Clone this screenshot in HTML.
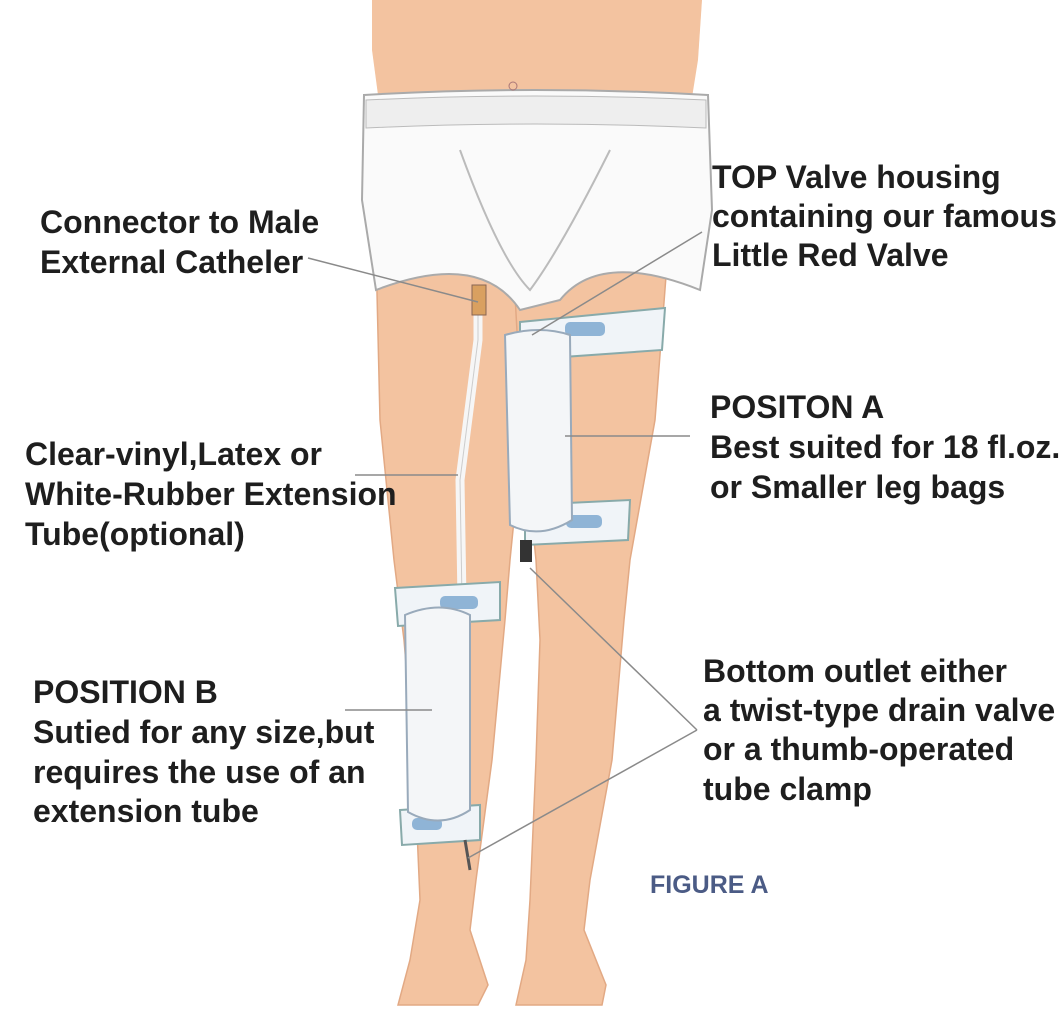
<!DOCTYPE html>
<html><head><meta charset="utf-8"><style>
html,body{margin:0;padding:0;background:#fff;}
svg{display:block}
text{font-family:"Liberation Sans",sans-serif;font-weight:bold;fill:#1e1e1e;font-size:32px}
</style></head><body>
<svg width="1063" height="1020" viewBox="0 0 1063 1020">
<rect width="1063" height="1020" fill="#fff"/>
<path d="M372 0 L702 0 L698 60 L690 110 L380 110 L372 50 Z" fill="#f3c3a0"/>
<path d="M376 250 L532 260 L524 420 L510 560 L505 620 L492 760 L476 880 L470 930 L488 985 L478 1005 L398 1005 L410 960 L420 900 L414 760 L404 640 L394 560 L380 420 Z" fill="#f3c3a0" stroke="#e2a984" stroke-width="1.5"/>
<path d="M513 260 L668 250 L655 420 L630 560 L624 620 L612 760 L590 880 L584 930 L606 985 L602 1005 L516 1005 L526 960 L530 900 L536 760 L540 640 L536 560 L522 420 Z" fill="#f3c3a0" stroke="#e2a984" stroke-width="1.5"/>
<path d="M364 95 Q535 85 708 95 L712 210 L700 290 Q600 250 560 300 L520 310 Q480 250 376 290 L362 200 Z" fill="#fafafa" stroke="#aaa" stroke-width="2"/>
<path d="M366 100 Q535 92 706 100 L706 128 Q535 120 366 128 Z" fill="#eee" stroke="#bbb"/>
<path d="M460 150 Q500 260 530 290 Q560 250 610 150" fill="none" stroke="#bbb" stroke-width="2"/>
<circle cx="513" cy="86" r="4" fill="none" stroke="#a77"/>
<path d="M478 300 L478 340 L460 480 L462 600" fill="none" stroke="#f6f6f6" stroke-width="9"/>
<path d="M478 300 L478 340 L460 480 L462 600" fill="none" stroke="#ccc" stroke-width="1"/>
<rect x="472" y="285" width="14" height="30" fill="#d9a060" stroke="#865"/>
<path d="M520 322 L665 308 L662 350 L520 360 Z" fill="#f0f4f8" stroke="#8aa" stroke-width="2"/>
<rect x="565" y="322" width="40" height="14" rx="5" fill="#8fb4d6"/>
<path d="M525 505 L630 500 L628 540 L525 545 Z" fill="#f0f4f8" stroke="#8aa" stroke-width="2"/>
<rect x="566" y="515" width="36" height="13" rx="5" fill="#8fb4d6"/>
<path d="M505 335 Q540 325 570 335 L572 520 Q540 540 510 525 Z" fill="#f4f6f8" stroke="#9ab" stroke-width="2"/>
<rect x="520" y="540" width="12" height="22" fill="#333"/>
<path d="M395 588 L500 582 L500 620 L398 626 Z" fill="#f0f4f8" stroke="#8aa" stroke-width="2"/>
<rect x="440" y="596" width="38" height="13" rx="5" fill="#8fb4d6"/>
<path d="M400 810 L480 805 L480 840 L402 845 Z" fill="#f0f4f8" stroke="#8aa" stroke-width="2"/>
<rect x="412" y="818" width="30" height="12" rx="5" fill="#8fb4d6"/>
<path d="M405 615 Q440 600 470 615 L470 810 Q440 830 408 812 Z" fill="#f4f6f8" stroke="#9ab" stroke-width="2"/>
<path d="M465 840 L470 870" stroke="#555" stroke-width="3"/>
<g stroke="#8a8a8a" stroke-width="1.5" fill="none">
<line x1="308" y1="258" x2="478" y2="302"/>
<line x1="702" y1="232" x2="532" y2="335"/>
<line x1="690" y1="436" x2="565" y2="436"/>
<line x1="355" y1="475" x2="458" y2="475"/>
<line x1="345" y1="710" x2="432" y2="710"/>
<line x1="697" y1="730" x2="530" y2="568"/>
<line x1="697" y1="730" x2="468" y2="858"/>
</g>
<text x="40" y="233">Connector to Male</text>
<text x="40" y="273">External Catheler</text>
<text x="712" y="188">TOP Valve housing</text>
<text x="712" y="227">containing our famous</text>
<text x="712" y="266">Little Red Valve</text>
<text x="710" y="418">POSITON A</text>
<text x="710" y="458">Best suited for 18 fl.oz.</text>
<text x="710" y="498">or Smaller leg bags</text>
<text x="25" y="465">Clear-vinyl,Latex or</text>
<text x="25" y="505">White-Rubber Extension</text>
<text x="25" y="545">Tube(optional)</text>
<text x="33" y="703">POSITION B</text>
<text x="33" y="743">Sutied for any size,but</text>
<text x="33" y="783">requires the use of an</text>
<text x="33" y="822">extension tube</text>
<text x="703" y="682">Bottom outlet either</text>
<text x="703" y="721">a twist-type drain valve</text>
<text x="703" y="760">or a thumb-operated</text>
<text x="703" y="800">tube clamp</text>
<text x="650" y="893" style="font-size:25px;fill:#4b5b85">FIGURE A</text>
</svg>
</body></html>
